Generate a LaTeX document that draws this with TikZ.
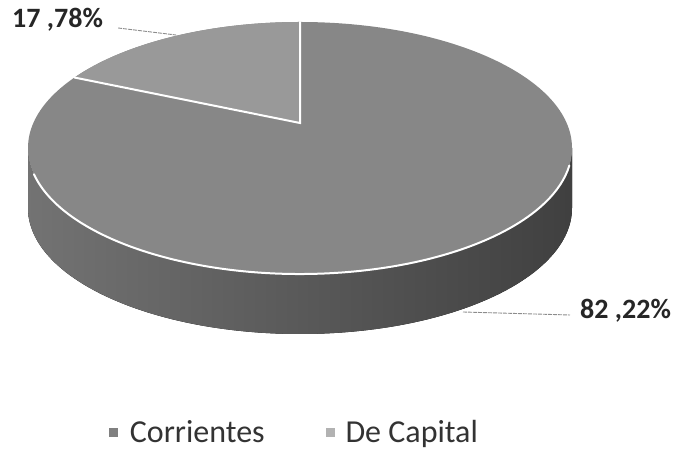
\documentclass[tikz,border=0pt]{standalone}
\usepackage{fontspec}
\setmainfont{Carlito}
\usetikzlibrary{positioning}

\tikzset{
  pct/.style={font=\fontsize{28}{32}\selectfont\bfseries, inner sep=0pt, text=black!85},
  leader/.style={draw=black!45, line width=0.9pt, dash pattern=on 4pt off 1pt},
  keybox/.style={rectangle, minimum size=9pt, inner sep=0pt},
  keytext/.style={font=\fontsize{32}{36}\selectfont, inner sep=0pt, text=black!80, text height=22pt, text depth=2pt},
  rim/.style={draw=white, line width=2pt, line cap=round},
}

\begin{document}
\begin{tikzpicture}[x=1pt, y=1pt]
      \useasboundingbox (0,0) rectangle (681,452);

      % side of the disc
      \fill[left color=black!55, right color=black!75] (28,304) arc[start angle=180, end angle=360, x radius=272, y radius=126]
        -- (572,244) arc[start angle=0, end angle=-180, x radius=272, y radius=126] -- cycle;

      % top face
      \fill[black!47] (300,304) ellipse[x radius=272, y radius=126];

      \coordinate (apex) at (300,329);
      \coordinate (back) at (300,430);
      \coordinate (cut) at ([shift={(300,304)}]146:272 and 126);
      \fill[black!40] (apex) -- (back) arc[start angle=90, end angle=146, x radius=272, y radius=126] -- cycle;
      \draw[rim] (back) -- (apex) -- (cut);
      \draw[rim] ([shift={(300,304)}]192:272 and 126) arc[start angle=192, end angle=352, x radius=272, y radius=126];

      % labels
      \node[pct, anchor=base west] (v17) at (12,424) {17 ,78\%};
      \node[pct, anchor=base west] (v82) at (580,133) {82 ,22\%};
      \coordinate (p17) at (176,417);
      \coordinate (p82) at (463,140);
      \draw[leader] ([xshift=15pt]v17.base east) -- (p17);
      \draw[leader] (p82) -- ([shift={(-10pt,4pt)}]v82.base west);

      % legend
      \node[keybox, fill=black!50] (kc) at (113,19) {};
      \node[keytext, right=12pt of kc] (tc) {Corrientes};
      \node[keybox, fill=black!30, right=61pt of tc] (kd) {};
      \node[keytext, right=10pt of kd] (td) {De Capital};
    \end{tikzpicture}
\end{document}
